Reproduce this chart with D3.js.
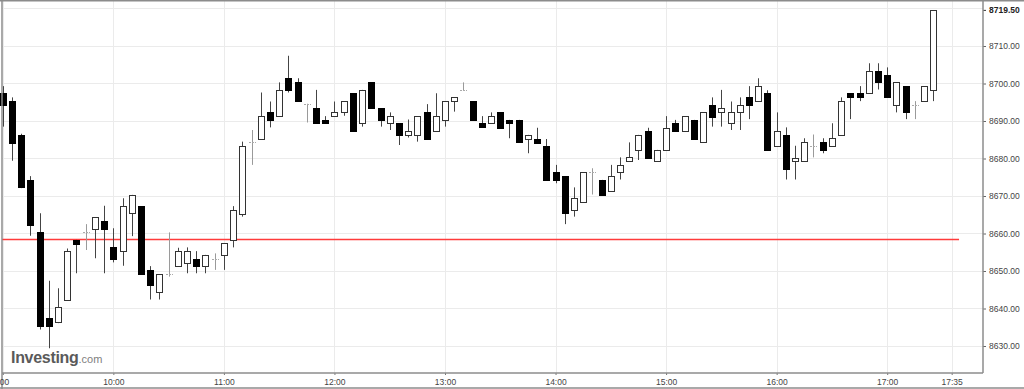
<!DOCTYPE html>
<html>
<head>
<meta charset="utf-8">
<script src="https://cdn.jsdelivr.net/npm/d3@7"></script>
<style>
  html, body { margin: 0; padding: 0; background: #fff; }
  svg { display: block; font-family: "Liberation Sans", Arial, sans-serif; }
</style>
</head>
<body>
<div id="chart"></div>
<script>
// 5-minute candles, first one at 09:00
var startHour = 9;
var barMinutes = 5;

var open = [8697.4, 8695.3, 8686.4, 8674.3, 8660.3, 8637.4, 8636.3, 8642.3, 8658.3, 8660.3,
            8661.3, 8663.3, 8656.3, 8655.3, 8665.4, 8667.3, 8650.3, 8644.3, 8649.2, 8651.3,
            8652.2, 8653.3, 8651.3, 8653.3, 8654.3, 8658.3, 8665.2, 8684.5, 8685.2, 8692.3,
            8691.2, 8701.4, 8700.3, 8694.5, 8693.4, 8690.4, 8691.3, 8692.3, 8697.4, 8689.4,
            8700.3, 8693.4, 8689.4, 8689.4, 8686.4, 8686.3, 8692.3, 8687.4, 8690.4, 8695.3,
            8698.4, 8695.2, 8689.4, 8689.4, 8692.3, 8690.3, 8690.3, 8685.2, 8685.2, 8683.4,
            8676.3, 8675.3, 8666.3, 8668.3, 8676.3, 8674.3, 8671.3, 8676.3, 8679.3, 8682.3,
            8687.4, 8679.3, 8682.3, 8689.4, 8687.4, 8690.3, 8684.3, 8694.4, 8692.3, 8689.4,
            8692.3, 8696.3, 8695.3, 8697.4, 8683.4, 8686.4, 8679.3, 8679.3, 8683.4, 8684.3,
            8683.4, 8686.3, 8697.4, 8697.4, 8697.4, 8703.3, 8702.3, 8694.4, 8699.3, 8694.4,
            8695.3, 8698.3];
var high = [8699.3, 8696.3, 8686.6, 8675.3, 8665.4, 8647.4, 8645.4, 8656.0, 8658.3, 8662.5,
            8664.3, 8667.4, 8661.4, 8669.4, 8670.3, 8667.3, 8651.3, 8649.2, 8660.3, 8656.2,
            8656.3, 8655.3, 8654.3, 8654.7, 8657.4, 8667.3, 8684.5, 8687.6, 8697.6, 8695.2,
            8700.3, 8707.4, 8701.4, 8694.6, 8698.3, 8691.3, 8695.2, 8695.2, 8697.4, 8698.3,
            8700.3, 8693.4, 8692.3, 8689.4, 8690.4, 8691.3, 8694.5, 8697.4, 8695.2, 8696.3,
            8700.3, 8695.2, 8691.3, 8692.3, 8692.3, 8690.3, 8690.3, 8686.3, 8688.2, 8685.2,
            8678.3, 8675.3, 8672.3, 8676.3, 8677.4, 8674.3, 8678.3, 8680.3, 8684.3, 8686.3,
            8688.2, 8682.3, 8691.3, 8690.3, 8691.3, 8690.3, 8692.3, 8696.3, 8698.3, 8695.2,
            8696.3, 8699.3, 8701.4, 8698.2, 8692.3, 8688.3, 8683.4, 8685.4, 8686.4, 8685.4,
            8689.4, 8696.3, 8697.4, 8699.3, 8705.4, 8705.4, 8704.3, 8700.3, 8699.3, 8695.3,
            8699.3, 8719.5];
var low = [8688.5, 8679.4, 8672.1, 8659.4, 8634.4, 8629.4, 8636.1, 8642.0, 8649.4, 8655.6,
           8653.4, 8649.4, 8652.3, 8651.4, 8659.3, 8649.2, 8642.4, 8642.4, 8648.5, 8651.1,
           8649.4, 8649.4, 8649.4, 8650.3, 8650.3, 8656.3, 8664.5, 8678.3, 8685.2, 8688.3,
           8691.2, 8697.6, 8695.2, 8689.6, 8689.4, 8689.4, 8691.3, 8691.4, 8687.4, 8688.5,
           8693.4, 8688.5, 8687.6, 8683.6, 8685.6, 8684.5, 8685.2, 8687.4, 8688.5, 8692.5,
           8698.2, 8690.4, 8688.3, 8689.4, 8688.2, 8685.4, 8684.3, 8681.4, 8684.2, 8674.3,
           8673.4, 8662.5, 8664.5, 8668.3, 8670.4, 8670.3, 8671.3, 8674.4, 8679.3, 8679.6,
           8680.2, 8679.3, 8682.3, 8687.4, 8687.4, 8685.3, 8684.3, 8688.5, 8688.5, 8687.6,
           8687.6, 8690.5, 8695.3, 8682.3, 8683.4, 8674.4, 8674.4, 8679.3, 8680.3, 8681.4,
           8683.4, 8686.3, 8690.5, 8695.3, 8697.4, 8698.4, 8696.3, 8692.3, 8690.5, 8690.5,
           8695.3, 8695.3];
var close = [8694.4, 8684.2, 8672.3, 8662.3, 8635.2, 8635.2, 8640.3, 8655.4, 8657.2, 8660.3,
             8664.3, 8661.3, 8653.3, 8667.3, 8670.3, 8649.2, 8646.3, 8649.2, 8649.2, 8655.4,
             8655.4, 8651.3, 8654.3, 8653.3, 8657.4, 8666.3, 8683.4, 8684.5, 8691.2, 8690.4,
             8698.3, 8698.3, 8695.2, 8694.5, 8689.4, 8689.4, 8692.3, 8695.2, 8687.4, 8698.3,
             8693.4, 8690.4, 8691.3, 8686.3, 8687.4, 8691.3, 8685.2, 8691.3, 8695.2, 8696.3,
             8698.4, 8690.4, 8688.3, 8691.3, 8688.2, 8689.4, 8684.3, 8686.3, 8684.2, 8674.3,
             8674.3, 8665.4, 8669.4, 8676.3, 8676.3, 8670.3, 8675.3, 8678.3, 8680.3, 8686.3,
             8680.2, 8682.3, 8688.2, 8687.4, 8691.3, 8685.3, 8692.3, 8691.1, 8693.4, 8692.3,
             8694.4, 8694.4, 8699.3, 8682.3, 8687.4, 8677.2, 8680.2, 8684.3, 8683.4, 8682.3,
             8685.4, 8695.3, 8696.3, 8696.3, 8703.3, 8700.3, 8696.3, 8700.3, 8692.3, 8694.4,
             8699.3, 8719.5];

var priceTicks = [8630, 8640, 8650, 8660, 8670, 8680, 8690, 8700, 8710];
var priceGrid = [8630, 8640, 8650, 8660, 8670, 8680, 8690, 8700, 8710, 8720];
var timeTicks = ["09:00", "10:00", "11:00", "12:00", "13:00", "14:00", "15:00", "16:00", "17:00", "17:35"];
var lastPrice = 8719.5;
var prevClose = 8658.5;
var prevCloseEnd = "17:39";

var svgWidth = 1024;
var svgHeight = 389;
var plot = { left: 2.8, right: 983, top: 1, bottom: 373 };

function toTime(hhmm) {
    var p = hhmm.split(":");
    return new Date(2025, 0, 2, +p[0], +p[1]);
}

var data = open.map(function (o, i) {
    return {
        t: new Date(2025, 0, 2, startHour, i * barMinutes),
        o: o, h: high[i], l: low[i], c: close[i]
    };
});

var svg = d3.select("#chart")
    .append("svg")
    .attr("width", svgWidth)
    .attr("height", svgHeight);

var x = d3.scaleTime()
    .domain([toTime("09:00"), new Date(2025, 0, 2, 17, 52.2)])
    .range([plot.left, plot.right]);

var y = d3.scaleLinear()
    .domain([8622.8, 8722])
    .range([plot.bottom, plot.top]);

// Grid
svg.append("g")
    .selectAll("line")
    .data(priceGrid)
    .enter()
    .append("line")
    .attr("x1", 2).attr("x2", plot.right)
    .attr("y1", d => Math.round(y(d)) + 0.5).attr("y2", d => Math.round(y(d)) + 0.5)
    .attr("stroke", "#ebebeb");

svg.append("g")
    .selectAll("line")
    .data(timeTicks)
    .enter()
    .append("line")
    .attr("x1", d => Math.round(x(toTime(d))) + 0.5).attr("x2", d => Math.round(x(toTime(d))) + 0.5)
    .attr("y1", plot.top).attr("y2", plot.bottom)
    .attr("stroke", "#ebebeb");

// Previous close line
svg.append("line")
    .attr("x1", 2).attr("x2", x(toTime(prevCloseEnd)))
    .attr("y1", Math.round(y(prevClose)) + 0.5).attr("y2", Math.round(y(prevClose)) + 0.5)
    .attr("stroke", "#ff3b3b")
    .attr("stroke-width", 1.3);

// Logo
var logo = svg.append("text")
    .attr("x", 11)
    .attr("y", 363);
logo.append("tspan")
    .attr("font-size", "16px")
    .attr("font-weight", "bold")
    .attr("fill", "#5a5a5a")
    .attr("letter-spacing", "-0.3")
    .text("Investing");
logo.append("tspan")
    .attr("font-size", "11px")
    .attr("fill", "#808080")
    .text(".com");

// Candles
var candles = svg.append("g").selectAll("g")
    .data(data)
    .enter()
    .append("g");

candles.append("line")
    .attr("x1", d => Math.round(x(d.t)) + 0.5)
    .attr("x2", d => Math.round(x(d.t)) + 0.5)
    .attr("y1", d => y(d.h))
    .attr("y2", d => y(d.l))
    .attr("stroke", d => d.o === d.c ? "#9a9a9a" : "#444");

candles.filter(d => d.o !== d.c)
    .append("rect")
    .attr("x", d => Math.round(x(d.t)) - 2.5)
    .attr("width", 6)
    .attr("y", d => Math.round(y(Math.max(d.o, d.c))) + 0.5)
    .attr("height", d => Math.max(1, Math.round(y(Math.min(d.o, d.c))) - Math.round(y(Math.max(d.o, d.c)))))
    .attr("fill", d => d.c > d.o ? "#fff" : "#000")
    .attr("stroke", d => d.c > d.o ? "#333" : "#000")
    .attr("stroke-width", 1);

candles.filter(d => d.o === d.c)
    .append("line")
    .attr("x1", d => Math.round(x(d.t)) - 3)
    .attr("x2", d => Math.round(x(d.t)) + 4)
    .attr("y1", d => Math.round(y(d.o)) + 0.5)
    .attr("y2", d => Math.round(y(d.o)) + 0.5)
    .attr("stroke", "#aaa")
    .attr("stroke-dasharray", "2,1");

// Frame
svg.append("line").attr("x1", 2).attr("x2", 2).attr("y1", 0).attr("y2", svgHeight)
    .attr("stroke", "#8c8c8c").attr("stroke-width", 1.5);
svg.append("line").attr("x1", 0).attr("x2", svgWidth).attr("y1", 0.75).attr("y2", 0.75)
    .attr("stroke", "#8c8c8c").attr("stroke-width", 1.5);
svg.append("line").attr("x1", 0).attr("x2", svgWidth).attr("y1", 388).attr("y2", 388)
    .attr("stroke", "#8c8c8c").attr("stroke-width", 1.5);

// Right price axis
var rightAxis = d3.axisRight(y)
    .tickValues(priceTicks)
    .tickSize(3)
    .tickPadding(3)
    .tickFormat(d3.format(".2f"));

var yAxisG = svg.append("g")
    .attr("transform", `translate(${plot.right}, 0)`)
    .call(rightAxis);
yAxisG.select(".domain").remove();
yAxisG.selectAll("text")
    .attr("font-size", "8.5px")
    .attr("fill", "#444")
    .attr("font-family", "'Liberation Sans', Arial, sans-serif");
yAxisG.selectAll("line").attr("stroke", "#666");

// last price label
svg.append("line")
    .attr("x1", plot.right).attr("x2", plot.right + 3)
    .attr("y1", y(lastPrice)).attr("y2", y(lastPrice))
    .attr("stroke", "#333");
svg.append("text")
    .attr("x", plot.right + 6)
    .attr("y", y(lastPrice))
    .attr("dy", "0.32em")
    .attr("font-size", "8.5px")
    .attr("font-weight", "bold")
    .attr("fill", "#222")
    .text(d3.format(".2f")(lastPrice));

svg.append("line").attr("x1", plot.right).attr("x2", plot.right).attr("y1", 0).attr("y2", plot.bottom)
    .attr("stroke", "#8c8c8c").attr("stroke-width", 1.5);

// Bottom time axis
var bottomAxis = d3.axisBottom(x)
    .tickValues(timeTicks.map(toTime))
    .tickSize(2)
    .tickPadding(4)
    .tickFormat(d3.timeFormat("%H:%M"));

var xAxisG = svg.append("g")
    .attr("transform", `translate(0, ${plot.bottom})`)
    .call(bottomAxis);
xAxisG.select(".domain").remove();
xAxisG.selectAll("line").attr("stroke", "#777");
xAxisG.selectAll("text")
    .attr("font-size", "8.5px")
    .attr("fill", "#444")
    .attr("font-family", "'Liberation Sans', Arial, sans-serif");
// first label sits at the left frame and is cut by it
xAxisG.select(".tick text").attr("text-anchor", "end").attr("dx", "6");

svg.append("line").attr("x1", 2).attr("x2", plot.right).attr("y1", plot.bottom).attr("y2", plot.bottom)
    .attr("stroke", "#8c8c8c").attr("stroke-width", 1.5);
</script>
</body>
</html>
